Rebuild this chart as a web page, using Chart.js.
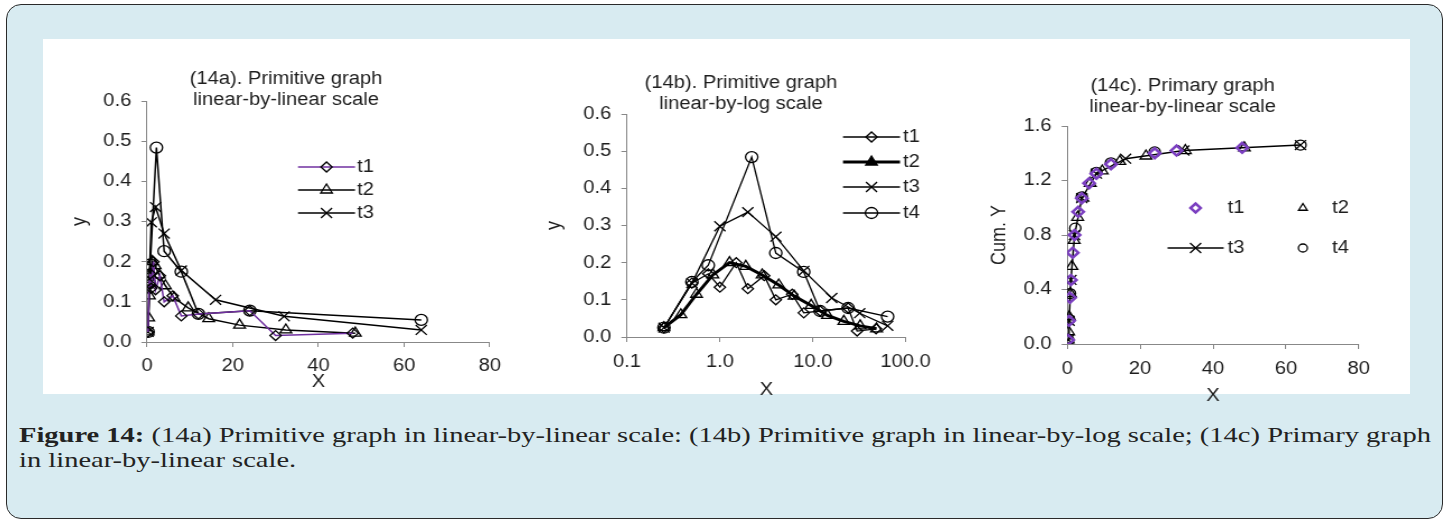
<!DOCTYPE html>
<html>
<head>
<meta charset="utf-8">
<script src="https://cdn.jsdelivr.net/npm/chart.js@4.4.1/dist/chart.umd.min.js"></script>
<style>
html,body{margin:0;padding:0;background:#fff;}
body{width:1449px;height:522px;position:relative;overflow:hidden;}
.frame{position:absolute;left:6px;top:4px;width:1437px;height:515px;box-sizing:border-box;border:1.5px solid #2a2a2a;border-radius:15px;background:#d8ebf1;}
.panel{position:absolute;left:43px;top:39px;width:1367px;height:355px;background:#fff;}
.box{position:absolute;}
.caption{position:absolute;left:19px;top:423px;font-family:"Liberation Serif",serif;font-size:21px;line-height:25px;color:#222;white-space:nowrap;transform-origin:0 0;}
</style>
</head>
<body>
<div class="frame"></div>
<div class="panel"></div>
<div class="box" id="boxA"><canvas id="chartA"></canvas></div>
<div class="box" id="boxB"><canvas id="chartB"></canvas></div>
<div class="box" id="boxC"><canvas id="chartC"></canvas></div>
<div class="caption" id="caption"><span id="cap1"><b>Figure 14:</b> (14a) Primitive graph in linear-by-linear scale: (14b) Primitive graph in linear-by-log scale; (14c) Primary graph</span><br>in linear-by-linear scale.</div>
<script>
// source figure is a little stretched sideways
const S = 1.12;
const FS = 18;
const FAMILY = '"Liberation Sans", Arial, sans-serif';
const TXT = '#1e1e1e', AX = '#888888', PURPLE = '#7030a0', PURPLE2 = '#7b3fc0';
const NOFILL = 'rgba(0,0,0,0)';

// primitive data (14a, 14b): size x, fraction y
const t1X = [0.25, 0.5, 0.75, 1, 1.5, 2, 3, 4, 6, 8, 12, 24, 30, 48];
const t1Y = [0.025, 0.145, 0.17, 0.134, 0.2, 0.13, 0.165, 0.1, 0.115, 0.065, 0.07, 0.078, 0.016, 0.022];
const t2X = [0.25, 0.38, 0.56, 0.84, 1.27, 1.9, 2.85, 4.3, 6.3, 9.6, 14.4, 21.6, 32.4, 48.6];
const t2Y = [0.025, 0.06, 0.115, 0.167, 0.2, 0.19, 0.167, 0.14, 0.11, 0.085, 0.058, 0.042, 0.03, 0.022];
const t3X = [0.25, 0.5, 1, 2, 4, 8, 16, 32, 64];
const t3Y = [0.025, 0.145, 0.298, 0.336, 0.27, 0.178, 0.105, 0.064, 0.03];
const t4X = [0.25, 0.5, 0.75, 2.2, 4, 8, 12, 24, 64];
const t4Y = [0.025, 0.148, 0.193, 0.484, 0.226, 0.175, 0.07, 0.078, 0.055];

// primary (cumulative) data (14c)
const t1Cum = [0.03, 0.17, 0.34, 0.47, 0.67, 0.80, 0.97, 1.07, 1.18, 1.25, 1.32, 1.40, 1.42, 1.44];
const t2Cum = [0.03, 0.09, 0.20, 0.37, 0.57, 0.76, 0.93, 1.07, 1.18, 1.27, 1.34, 1.38, 1.42, 1.44];
const t3Cum = [0.03, 0.17, 0.47, 0.80, 1.07, 1.25, 1.36, 1.42, 1.46];
const t4Cum = [0.03, 0.18, 0.37, 0.85, 1.08, 1.26, 1.33, 1.41, 1.46];

const linXTicks = [0, 20, 40, 60, 80];
const logXTicks = [0.1, 1, 10, 100];

const pts = (xs, ys) => xs.map((x, i) => ({x, y: ys[i]}));

// page geometry of each chart (px); title is centred on the box
const geoA = {left:62, top:45, width:448, height:362, plotL:147, plotR:492, plotT:101, plotB:342, title1:79, yTitle:80, xTitle:382, tickPad:8};
const geoB = {left:541, top:45, width:400, height:362, plotL:627, plotR:911, plotT:114, plotB:337, title1:83, yTitle:555, xTitle:390, tickPad:9};
const geoC = {left:985, top:45, width:394, height:362, plotL:1067, plotR:1375, plotT:126, plotB:344, title1:86, yTitle:1000, xTitle:396, tickPad:9};

// legend entries, page px (kept out of the Chart.js option resolver)
const legends = {
  chartA: {geo:geoA, items:[
    {ds:0, x0:298, x1:355, tx:357, y:167, line:true},
    {ds:1, x0:298, x1:355, tx:357, y:190, line:true},
    {ds:2, x0:298, x1:355, tx:357, y:213, line:true}]},
  chartB: {geo:geoB, items:[
    {ds:0, x0:843, x1:900, tx:903, y:137, line:true},
    {ds:1, x0:843, x1:900, tx:903, y:162, line:true, fill:'#000'},
    {ds:2, x0:843, x1:900, tx:903, y:187, line:true},
    {ds:3, x0:843, x1:900, tx:903, y:213, line:true}]},
  chartC: {geo:geoC, items:[
    {ds:0, x0:1195, x1:1195, tx:1227, y:208, stroke:PURPLE2, bw:2.5, r:4.5},
    {ds:1, x0:1302, x1:1302, tx:1331, y:208, r:4.5},
    {ds:2, x0:1167, x1:1223, tx:1227, y:248, line:true},
    {ds:3, x0:1302, x1:1302, tx:1331, y:248, r:4}]}
};

function place(id, g){
  const el = document.getElementById(id);
  el.style.left = g.left + 'px';
  el.style.top = g.top + 'px';
  el.style.width = (g.width / S) + 'px';
  el.style.height = g.height + 'px';
  el.style.transform = 'scaleX(' + S + ')';
  el.style.transformOrigin = '0 0';
}

// legend drawn inside the plot like the Excel original
const inlineLegend = {
  id: 'inlineLegend',
  afterDraw(chart){
    const lg = legends[chart.canvas.id];
    if(!lg) return;
    const ctx = chart.ctx, g = lg.geo;
    ctx.save();
    ctx.font = FS + 'px ' + FAMILY;
    ctx.textBaseline = 'middle';
    lg.items.forEach(it=>{
      const ds = chart.data.datasets[it.ds];
      const y = it.y - g.top;
      const x0 = (it.x0 - g.left) / S, x1 = (it.x1 - g.left) / S, tx = (it.tx - g.left) / S;
      if(it.line){
        ctx.strokeStyle = ds.borderColor;
        ctx.lineWidth = ds.borderWidth;
        ctx.beginPath(); ctx.moveTo(x0, y); ctx.lineTo(x1, y); ctx.stroke();
      }
      const bw = it.bw || 1.3;
      ctx.fillStyle = it.fill || NOFILL;
      ctx.strokeStyle = it.stroke || '#000';
      ctx.lineWidth = bw;
      Chart.helpers.drawPoint(ctx, {pointStyle: ds.pointStyle, radius: it.r || ds.pointRadius, borderWidth: bw, rotation: 0}, (x0 + x1) / 2, y);
      ctx.fillStyle = TXT;
      ctx.fillText(ds.label, tx, y);
    });
    ctx.restore();
  }
};

function axisBase(){
  return {
    grid: {display:true, drawOnChartArea:false, drawTicks:true, tickLength:5, color:AX, lineWidth:1},
    border: {display:true, color:AX, width:1},
  };
}

function xAxis(g, extra){
  const lh = FS * 1.15;
  return Object.assign(axisBase(), {
    title: {display:true, text:'X', color:TXT, font:{family:FAMILY, size:FS, lineHeight:1.15},
      padding:{top:0, bottom: g.top + g.height - g.xTitle - lh/2}},
    ticks: {color:TXT, font:{family:FAMILY, size:FS}, padding:g.tickPad, maxRotation:0, autoSkip:false},
    afterFit: s => { s.height = g.top + g.height - g.plotB; }
  }, extra);
}

function yAxis(g, title, min, max, step){
  const lh = FS * 1.15;
  return Object.assign(axisBase(), {
    min, max,
    title: {display:true, text:title, color:TXT, font:{family:FAMILY, size:FS, lineHeight:1.15},
      padding:{top:(g.yTitle - g.left) / S - lh/2, bottom:0}},
    ticks: {color:TXT, font:{family:FAMILY, size:FS}, padding:9, stepSize:step, callback: v => Number(v).toFixed(1)},
    afterFit: s => { s.width = (g.plotL - g.left) / S; }
  });
}

// empty right-hand axis: keeps the plot clear of the box edge while the title stays centred on the box
function spacer(g){
  return {
    type:'linear', position:'right', display:true,
    grid:{display:false}, border:{display:false}, ticks:{display:false},
    afterFit: s => { s.width = (g.left + g.width - g.plotR) / S; }
  };
}

function options(g, titleLines, xScale, yScale){
  const lh = FS * 1.15;
  const tTop = g.title1 - g.top - lh/2;
  const tBottom = (g.plotT - g.top) - tTop - 2*lh;
  return {
    responsive:true, maintainAspectRatio:false, animation:false,
    layout: {padding:0},
    plugins: {
      legend: {display:false},
      tooltip: {enabled:false},
      title: {display:true, text:titleLines, color:TXT, font:{family:FAMILY, size:FS, weight:'normal', lineHeight:1.15},
        padding:{top:tTop, bottom:tBottom}}
    },
    scales: {x:xScale, y:yScale, pad:spacer(g)}
  };
}

function lineSet(label, data, style, r, color, width, extra){
  return Object.assign({
    label, data, showLine:true, tension:0, fill:false,
    borderColor:color, borderWidth:width,
    pointStyle:style, pointRadius:r, pointBorderColor:'#000', pointBorderWidth:1.3,
    pointBackgroundColor:NOFILL
  }, extra || {});
}

place('boxA', geoA); place('boxB', geoB); place('boxC', geoC);

// (14a)
new Chart(document.getElementById('chartA'), {
  type:'scatter',
  data:{datasets:[
    lineSet('t1', pts(t1X, t1Y), 'rectRot', 5, PURPLE, 1.5),
    lineSet('t2', pts(t2X, t2Y), 'triangle', 6, '#000', 1.5),
    lineSet('t3', pts(t3X, t3Y), 'crossRot', 7, '#000', 1.5),
    lineSet('t4', pts(t4X, t4Y), 'circle', 5.5, '#000', 1.5)
  ]},
  options: options(geoA, ['(14a). Primitive graph', 'linear-by-linear scale'],
    xAxis(geoA, {type:'linear', min:0, max:80,
      afterBuildTicks: s => { s.ticks = linXTicks.map(v => ({value:v})); }}),
    yAxis(geoA, 'y', 0, 0.6, 0.1)),
  plugins:[inlineLegend]
});

// (14b)
new Chart(document.getElementById('chartB'), {
  type:'scatter',
  data:{datasets:[
    lineSet('t1', pts(t1X, t1Y), 'rectRot', 5, '#000', 1.3),
    lineSet('t2', pts(t2X, t2Y), 'triangle', 6, '#000', 3),
    lineSet('t3', pts(t3X, t3Y), 'crossRot', 7, '#000', 1.3),
    lineSet('t4', pts(t4X, t4Y), 'circle', 5.5, '#000', 1.3)
  ]},
  options: options(geoB, ['(14b). Primitive graph', 'linear-by-log scale'],
    xAxis(geoB, {type:'logarithmic', min:0.1, max:100,
      afterBuildTicks: s => { s.ticks = logXTicks.map(v => ({value:v})); },
      ticks:{color:TXT, font:{family:FAMILY, size:FS}, padding:geoB.tickPad, maxRotation:0, autoSkip:false,
        callback: v => Number(v).toFixed(1)}}),
    yAxis(geoB, 'y', 0, 0.6, 0.1)),
  plugins:[inlineLegend]
});

// (14c)
new Chart(document.getElementById('chartC'), {
  type:'scatter',
  data:{datasets:[
    lineSet('t1', pts(t1X, t1Cum), 'rectRot', 5, PURPLE2, 0, {showLine:false, pointBorderColor:PURPLE2, pointBorderWidth:2.5}),
    lineSet('t2', pts(t2X, t2Cum), 'triangle', 6, '#000', 0, {showLine:false}),
    lineSet('t3', pts(t3X, t3Cum), 'crossRot', 7, '#000', 1.5),
    lineSet('t4', pts(t4X, t4Cum), 'circle', 5, '#000', 0, {showLine:false})
  ]},
  options: options(geoC, ['(14c). Primary graph', 'linear-by-linear scale'],
    xAxis(geoC, {type:'linear', min:0, max:80,
      afterBuildTicks: s => { s.ticks = linXTicks.map(v => ({value:v})); }}),
    yAxis(geoC, 'Cum. Y', 0, 1.6, 0.4)),
  plugins:[inlineLegend]
});

// stretch the caption so its first line spans the frame like the original
const capBox = document.getElementById('caption');
const capW = document.getElementById('cap1').getBoundingClientRect().width;
capBox.style.transform = 'scaleX(' + (1412 / capW).toFixed(4) + ')';
</script>
</body>
</html>
